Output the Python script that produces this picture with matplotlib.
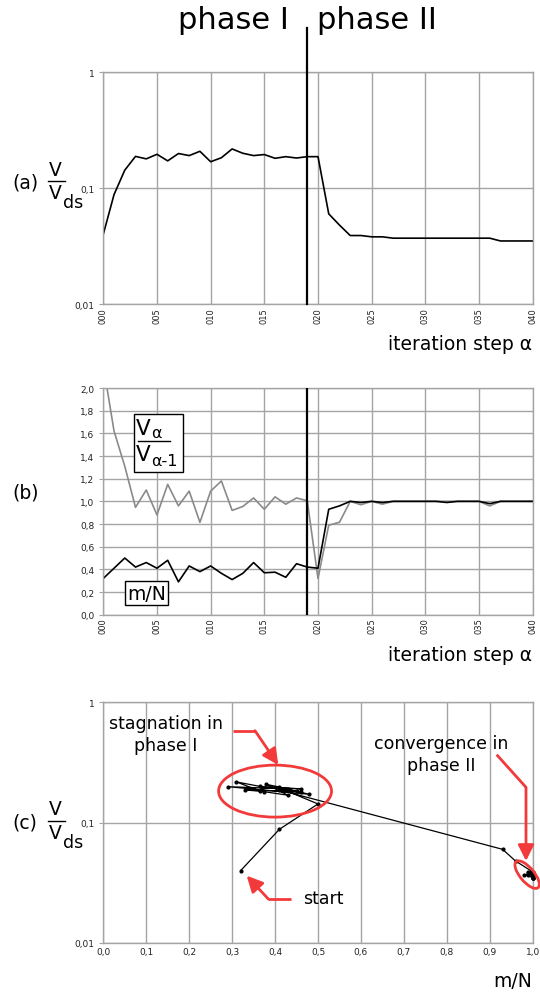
import matplotlib
matplotlib.use('Agg')
import matplotlib.pyplot as plt
from matplotlib.patches import Ellipse, Rectangle
from matplotlib.lines import Line2D
import matplotlib.transforms as mtransforms
from matplotlib.ticker import FixedLocator, FixedFormatter, NullLocator

plt.rcParams['font.family'] = ['DejaVu Sans']

# ---------------- data ----------------
steps = list(range(41))
V_rel = [0.040, 0.088, 0.143, 0.188, 0.179, 0.196, 0.172, 0.199, 0.191, 0.208,
         0.169, 0.183, 0.218, 0.200, 0.191, 0.195, 0.181, 0.187, 0.182, 0.187,
         0.187, 0.060, 0.048, 0.039, 0.039, 0.038, 0.038, 0.037, 0.037, 0.037,
         0.037, 0.037, 0.037, 0.037, 0.037, 0.037, 0.037, 0.035, 0.035, 0.035,
         0.035]
ratio = [2.2, 1.62, 1.31, 0.947, 1.10, 0.88, 1.15, 0.96, 1.09, 0.815,
         1.09, 1.18, 0.92, 0.955, 1.03, 0.93, 1.04, 0.975, 1.03, 1.005,
         0.32, 0.79, 0.815, 1.0, 0.97, 1.0, 0.975, 1.0, 1.0, 1.0,
         1.0, 1.0, 1.0, 1.0, 1.0, 1.0, 0.96, 1.0, 1.0, 1.0,
         1.0]
mN = [0.32, 0.41, 0.50, 0.42, 0.46, 0.41, 0.48, 0.29, 0.43, 0.38,
      0.43, 0.365, 0.31, 0.365, 0.46, 0.37, 0.375, 0.33, 0.45, 0.42,
      0.41, 0.93, 0.96, 1.0, 0.99, 1.0, 0.99, 1.0, 1.0, 1.0,
      1.0, 1.0, 0.99, 1.0, 1.0, 1.0, 0.98, 1.0, 1.0, 1.0,
      1.0]
phase_switch = 19
step_ticks = list(range(0, 41, 5))
step_labels = [f'{s:03d}' for s in step_ticks]
log_ticks = [0.01, 0.1, 1]
log_labels = ['0,01', '0,1', '1']
lin_ticks = [i * 0.2 for i in range(11)]
lin_labels = [f'{v:.1f}'.replace('.', ',') for v in lin_ticks]
mn_ticks = [i * 0.1 for i in range(11)]
mn_labels = [f'{v:.1f}'.replace('.', ',') for v in mn_ticks]

# ---------------- figure ----------------
W, H = 540, 995
fig = plt.figure(figsize=(W / 100, H / 100), dpi=100)


def fx(x):
    return x / W


def fy(y):
    return 1 - y / H


L, R = 103.3, 532.7
axa = fig.add_axes([fx(L), fy(305), (R - L) / W, (305 - 73.3) / H])
axb = fig.add_axes([fx(L), fy(615.7), (R - L) / W, (615.7 - 389) / H])
axc = fig.add_axes([fx(L), fy(944), (R - L) / W, (944 - 703.3) / H])

grid_c = '#a4a4a4'
RED = '#f23a3a'


def style(ax):
    for s in ax.spines.values():
        s.set_color(grid_c)
        s.set_linewidth(1.0)
    ax.tick_params(colors='#222222', labelsize=6.5, length=3, width=0.8)
    ax.tick_params(axis='both', color=grid_c)
    ax.grid(True, color=grid_c, lw=1.0)
    ax.set_axisbelow(True)


# ---- panel (a)
style(axa)
axa.set_yscale('log')
axa.set_ylim(0.01, 1)
axa.set_xlim(0, 40)
axa.yaxis.set_major_locator(FixedLocator(log_ticks))
axa.yaxis.set_major_formatter(FixedFormatter(log_labels))
axa.yaxis.set_minor_locator(NullLocator())
axa.set_xticks(step_ticks)
axa.set_xticklabels(step_labels, rotation=90, fontsize=6)
axa.tick_params(axis='x', length=0, pad=2)
axa.plot(steps, V_rel, color='black', lw=1.2)
axa.plot([phase_switch, phase_switch], [0, 1.19], color='black', lw=1.6,
         transform=axa.get_xaxis_transform(), clip_on=False, zorder=5)

# ---- panel (b)
style(axb)
axb.set_xlim(0, 40)
axb.set_ylim(0, 2.0)
axb.set_yticks(lin_ticks)
axb.set_yticklabels(lin_labels)
axb.set_xticks(step_ticks)
axb.set_xticklabels(step_labels, rotation=90, fontsize=6)
axb.tick_params(axis='x', length=0, pad=2)
axb.plot(steps, ratio, color='#8a8a8a', lw=1.2)
axb.plot(steps, mN, color='black', lw=1.2)
axb.axvline(phase_switch, color='black', lw=1.6, zorder=5)

# ---- panel (c)
style(axc)
axc.set_yscale('log')
axc.set_ylim(0.01, 1)
axc.set_xlim(0, 1)
axc.yaxis.set_major_locator(FixedLocator(log_ticks))
axc.yaxis.set_major_formatter(FixedFormatter(log_labels))
axc.yaxis.set_minor_locator(NullLocator())
axc.set_xticks(mn_ticks)
axc.set_xticklabels(mn_labels)
axc.tick_params(axis='x', length=0, pad=3)
axc.plot(mN, V_rel, color='black', lw=0.9, marker='o', ms=2.0, clip_on=False,
         zorder=4)

axc.add_patch(Ellipse((0.40, 0.631), 0.263, 0.216, transform=axc.transAxes,
                      fill=False, ec=RED, lw=2.0, zorder=6))
tr_small = fig.dpi_scale_trans + mtransforms.ScaledTranslation(0.987, 0.284, axc.transAxes)
axc.add_patch(Ellipse((0, 0), 0.34, 0.14, angle=-50, transform=tr_small,
                      fill=False, ec=RED, lw=2.0, zorder=6, clip_on=False))


def red_arrow(points):
    xs = [fx(p[0]) for p in points[:-1]]
    ys = [fy(p[1]) for p in points[:-1]]
    fig.add_artist(Line2D(xs, ys, color=RED, lw=2.0, transform=fig.transFigure,
                          solid_capstyle='butt'))
    fig.add_artist(matplotlib.patches.FancyArrowPatch(
        (fx(points[-2][0]), fy(points[-2][1])), (fx(points[-1][0]), fy(points[-1][1])),
        transform=fig.transFigure, arrowstyle='-|>,head_length=6,head_width=3',
        color=RED, lw=2.0, shrinkA=0, shrinkB=0, mutation_scale=1.6))


red_arrow([(233.3, 731.7), (255, 731.7), (278.3, 766)])
red_arrow([(496.7, 755.7), (526, 788.3), (526, 862)])
red_arrow([(290.7, 900), (268.3, 900), (246.7, 876.7)])

fig.text(fx(165.8), fy(735), 'stagnation in\nphase I', ha='center', va='center',
         fontsize=12.5, linespacing=1.25)
fig.text(fx(440.8), fy(755), 'convergence in\nphase II', ha='center', va='center',
         fontsize=12.5, linespacing=1.25)
fig.text(fx(303.3), fy(899.3), 'start', ha='left', va='center', fontsize=12.5)

# ---- header
fig.text(fx(288.5), fy(29), 'phase I', ha='right', va='baseline', fontsize=22)
fig.text(fx(316.7), fy(29), 'phase II', ha='left', va='baseline', fontsize=22)

# ---- axis titles
fig.text(fx(531.7), fy(345), 'iteration step α', ha='right', va='center', fontsize=13.5)
fig.text(fx(531.7), fy(655.7), 'iteration step α', ha='right', va='center', fontsize=13.5)
fig.text(fx(531.7), fy(981.7), 'm/N', ha='right', va='center', fontsize=13.5)


def frac_label(tag, yc):
    fig.text(fx(12), fy(yc), tag, ha='left', va='center', fontsize=13.5)
    fig.text(fx(55.5), fy(yc - 13), 'V', ha='center', va='center', fontsize=13.5)
    fig.add_artist(Line2D([fx(48), fx(65)], [fy(yc - 1), fy(yc - 1)], color='black',
                          lw=1.0, transform=fig.transFigure))
    fig.text(fx(55.5), fy(yc + 10.5), 'V', ha='center', va='center', fontsize=13.5)
    fig.text(fx(63.5), fy(yc + 20), 'ds', ha='left', va='center', fontsize=12.5)


frac_label('(a)', 183)
frac_label('(c)', 823)
fig.text(fx(12), fy(493), '(b)', ha='left', va='center', fontsize=13.5)

# ---- boxed legends in panel (b)
fig.add_artist(Rectangle((fx(134), fy(473)), (182.7 - 134) / W, (473 - 415) / H,
                         transform=fig.transFigure, fc='white', ec='black', lw=1.0,
                         zorder=7))
fig.text(fx(143.5), fy(429), 'V', ha='center', va='center', fontsize=15.5, zorder=8)
fig.text(fx(151), fy(434), 'α', ha='left', va='center', fontsize=11.5, zorder=8)
fig.add_artist(Line2D([fx(137.7), fx(170)], [fy(442.3), fy(442.3)], color='black',
                      lw=1.0, transform=fig.transFigure, zorder=8))
fig.text(fx(143.5), fy(455), 'V', ha='center', va='center', fontsize=15.5, zorder=8)
fig.text(fx(151), fy(462), 'α-1', ha='left', va='center', fontsize=11.5, zorder=8)

fig.text(fx(146.7), fy(594), 'm/N', ha='center', va='center', fontsize=13.5, zorder=8,
         bbox=dict(boxstyle='square,pad=0.12', fc='white', ec='black', lw=1.0))

fig.savefig('out.png', dpi=100)
